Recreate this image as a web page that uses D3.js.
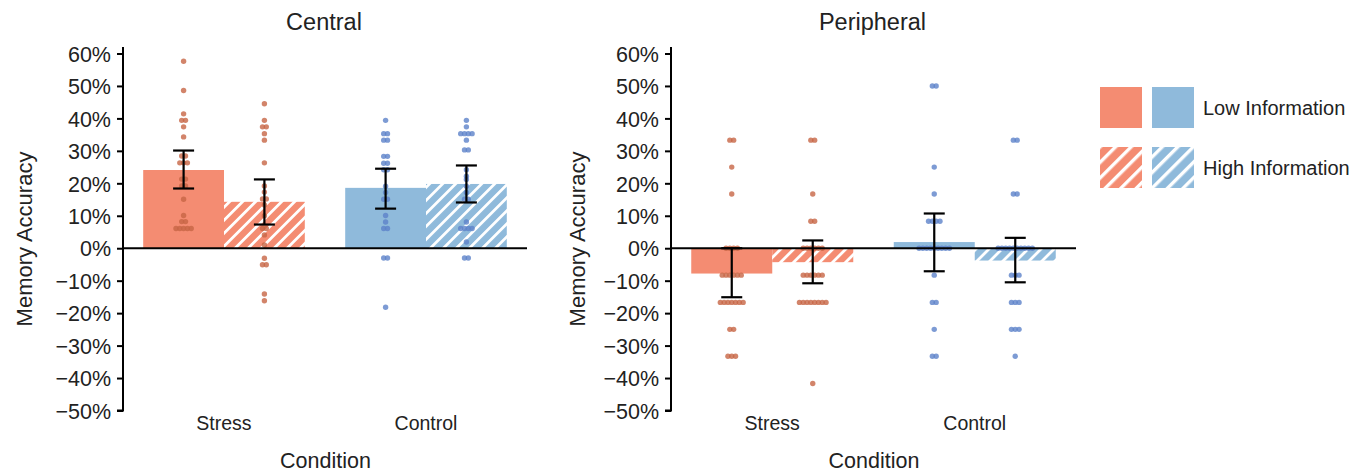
<!DOCTYPE html>
<html>
<head>
<meta charset="utf-8">
<script src="https://cdn.jsdelivr.net/npm/d3@7"></script>
<style>
  body { margin: 0; background: #fff; }
  svg text { font-family: "Liberation Sans", Arial, sans-serif; fill: #222; }
</style>
</head>
<body>
<svg id="chart" width="1364" height="474"></svg>
<script>
// ---- data ----
const panels = ["Central", "Peripheral"];
const conditions = ["Stress", "Control"];
const infoLevels = ["Low Information", "High Information"];
const yTicks = [-0.5, -0.4, -0.3, -0.2, -0.1, 0, 0.1, 0.2, 0.3, 0.4, 0.5, 0.6];

// bar means, [condition][info level]
const centralMeans = [[0.241, 0.143], [0.186, 0.198]];
const peripheralMeans = [[-0.078, -0.043], [0.019, -0.038]];

// error bar ends [low, high]
const centralErr = [[[0.184, 0.301], [0.073, 0.212]], [[0.122, 0.245], [0.141, 0.255]]];
const peripheralErr = [[[-0.151, 0.0], [-0.108, 0.024]], [[-0.071, 0.107], [-0.105, 0.032]]];

// individual participants
const centralStressLow = [0.576, 0.486, 0.414, 0.394, 0.394, 0.374, 0.343, 0.284, 0.284, 0.263, 0.263, 0.263,
  0.213, 0.213, 0.192, 0.192, 0.151, 0.101, 0.082, 0.082, 0.061, 0.061, 0.061, 0.061, 0.061];
const centralStressHigh = [0.445, 0.394, 0.374, 0.374, 0.353, 0.333, 0.263, 0.192, 0.173, 0.152, 0.152, 0.133,
  0.100, 0.061, 0.061, 0.041, 0.010, -0.031, -0.051, -0.051, -0.141, -0.162];
const centralControlLow = [0.394, 0.353, 0.353, 0.333, 0.333, 0.283, 0.283, 0.262, 0.262, 0.242, 0.242, 0.191,
  0.172, 0.151, 0.151, 0.101, 0.081, 0.061, 0.061, -0.030, -0.030, -0.182];
const centralControlHigh = [0.394, 0.374, 0.353, 0.353, 0.353, 0.353, 0.333, 0.303, 0.303, 0.242, 0.222, 0.212,
  0.191, 0.172, 0.151, 0.151, 0.081, 0.061, 0.061, 0.061, 0.061, 0.019, -0.030, -0.030];
const peripheralStressLow = [0.333, 0.333, 0.25, 0.167, 0, 0, 0, 0, -0.083, -0.083, -0.083, -0.083, -0.083, -0.083,
  -0.167, -0.167, -0.167, -0.167, -0.167, -0.167, -0.167, -0.25, -0.25, -0.333, -0.333, -0.333];
const peripheralStressHigh = [0.333, 0.333, 0.167, 0.083, 0.083, 0, 0, 0, 0, 0, 0, -0.083, -0.083, -0.083, -0.083,
  -0.083, -0.083, -0.167, -0.167, -0.167, -0.167, -0.167, -0.167, -0.167, -0.167, -0.417];
const peripheralControlLow = [0.5, 0.5, 0.25, 0.167, 0.083, 0.083, 0.083, 0.083, 0, 0, 0, 0, 0, 0, 0, 0, 0,
  -0.083, -0.167, -0.167, -0.25, -0.333, -0.333];
const peripheralControlHigh = [0.333, 0.333, 0.167, 0.167, 0, 0, 0, 0, 0, 0, 0, 0, 0, 0, -0.083, -0.083, -0.083,
  -0.167, -0.167, -0.167, -0.25, -0.25, -0.25, -0.333];

// ---- look ----
const BAR_COLORS = ["#f48c72", "#8fbadb"];
const DOT_COLORS = ["#c76545", "#5c82c9"];
const Y_TOP = 47, Y_BOTTOM = 410.5;
const DOT_R = 2.7, DOT_GAP = 3.8;

const svg = d3.select("#chart");
const defs = svg.append("defs");

function makeHatch(id, color, size, stripe) {
  const p = defs.append("pattern")
    .attr("id", id)
    .attr("patternUnits", "userSpaceOnUse")
    .attr("width", size)
    .attr("height", size)
    .attr("patternTransform", "rotate(45)");
  p.append("rect").attr("width", size).attr("height", size).attr("fill", color);
  p.append("rect").attr("x", 0).attr("width", stripe).attr("height", size).attr("fill", "#fff");
}
makeHatch("hatch0", BAR_COLORS[0], 9.2, 2.8);
makeHatch("hatch1", BAR_COLORS[1], 9.2, 2.8);
makeHatch("lhatch0", BAR_COLORS[0], 11, 3.4);
makeHatch("lhatch1", BAR_COLORS[1], 11, 3.4);

const y = d3.scaleLinear().domain([-0.5, 0.62]).range([Y_BOTTOM, Y_TOP]);

function drawPanel(title, left, right, labelX, means, errs, dots) {
  const g = svg.append("g");
  const x = d3.scaleBand().domain(conditions).range([left, right]).padding(0);
  const sub = d3.scaleBand().domain([0, 1]).range([0, x.bandwidth() * 0.8]);
  const xOf = (ci, li) => x(conditions[ci]) + x.bandwidth() * 0.1 + sub(li);

  // bars
  conditions.forEach((c, ci) => {
    [0, 1].forEach(li => {
      const v = means[ci][li];
      g.append("rect")
        .attr("x", xOf(ci, li))
        .attr("width", sub.bandwidth())
        .attr("y", y(Math.max(v, 0)))
        .attr("height", Math.abs(y(v) - y(0)))
        .attr("fill", li === 0 ? BAR_COLORS[ci] : `url(#hatch${ci})`);
    });
  });

  // participant dots, stacked sideways when values repeat
  conditions.forEach((c, ci) => {
    [0, 1].forEach(li => {
      const cx = xOf(ci, li) + sub.bandwidth() / 2;
      const rows = d3.groups(dots[ci][li], d => d);
      rows.forEach(([v, list]) => {
        list.forEach((d, i) => {
          g.append("circle")
            .attr("cx", cx + (i - (list.length - 1) / 2) * DOT_GAP)
            .attr("cy", y(v))
            .attr("r", DOT_R)
            .attr("fill", DOT_COLORS[ci])
            .attr("fill-opacity", 0.8);
        });
      });
    });
  });

  // zero line
  g.append("line")
    .attr("x1", left).attr("x2", right)
    .attr("y1", y(0)).attr("y2", y(0))
    .attr("stroke", "#000").attr("stroke-width", 2);

  // error bars
  conditions.forEach((c, ci) => {
    [0, 1].forEach(li => {
      const cx = xOf(ci, li) + sub.bandwidth() / 2;
      const [lo, hi] = errs[ci][li];
      const eg = g.append("g").attr("stroke", "#000").attr("stroke-width", 2.2);
      eg.append("line").attr("x1", cx).attr("x2", cx).attr("y1", y(lo)).attr("y2", y(hi));
      [lo, hi].forEach(v => {
        eg.append("line").attr("x1", cx - 10.5).attr("x2", cx + 10.5).attr("y1", y(v)).attr("y2", y(v));
      });
    });
  });

  // y axis
  const axis = g.append("g")
    .attr("transform", `translate(${left},0)`)
    .call(d3.axisLeft(y).tickValues(yTicks).tickSize(6).tickPadding(6)
      .tickFormat(d => d3.format(".0%")(d).replace("-", "\u2212")));
  axis.select(".domain").attr("stroke-width", 2).attr("d", `M-6,${Y_BOTTOM}H0V${Y_TOP}`);
  axis.selectAll(".tick line").attr("stroke-width", 2);
  axis.selectAll(".tick text").style("font-size", "21.5px").attr("dy", "0.36em").attr("fill", "#222");

  // x labels
  conditions.forEach(c => {
    g.append("text")
      .attr("x", x(c) + x.bandwidth() / 2)
      .attr("y", 430)
      .attr("text-anchor", "middle")
      .style("font-size", "19.5px")
      .text(c);
  });
  g.append("text")
    .attr("x", (left + right) / 2 + 0.5)
    .attr("y", 468)
    .attr("text-anchor", "middle")
    .style("font-size", "21.5px")
    .text("Condition");
  g.append("text")
    .attr("x", (left + right) / 2 - 1)
    .attr("y", 30)
    .attr("text-anchor", "middle")
    .style("font-size", "23.5px")
    .text(title);
  g.append("text")
    .attr("transform", `translate(${labelX},${239}) rotate(-90)`)
    .attr("text-anchor", "middle")
    .style("font-size", "22px")
    .text("Memory Accuracy");
}

drawPanel(panels[0], 123, 527, 32, centralMeans, centralErr,
  [[centralStressLow, centralStressHigh], [centralControlLow, centralControlHigh]]);
drawPanel(panels[1], 671, 1076, 585, peripheralMeans, peripheralErr,
  [[peripheralStressLow, peripheralStressHigh], [peripheralControlLow, peripheralControlHigh]]);

// legend
const legend = svg.append("g");
infoLevels.forEach((label, li) => {
  const top = 87 + li * 60;
  [0, 1].forEach(ci => {
    legend.append("rect")
      .attr("x", 1100 + ci * 52)
      .attr("y", top)
      .attr("width", 42)
      .attr("height", 41)
      .attr("fill", li === 0 ? BAR_COLORS[ci] : `url(#lhatch${ci})`);
  });
  legend.append("text")
    .attr("x", 1203)
    .attr("y", top + 28)
    .style("font-size", "20px")
    .text(label);
});
</script>
</body>
</html>
